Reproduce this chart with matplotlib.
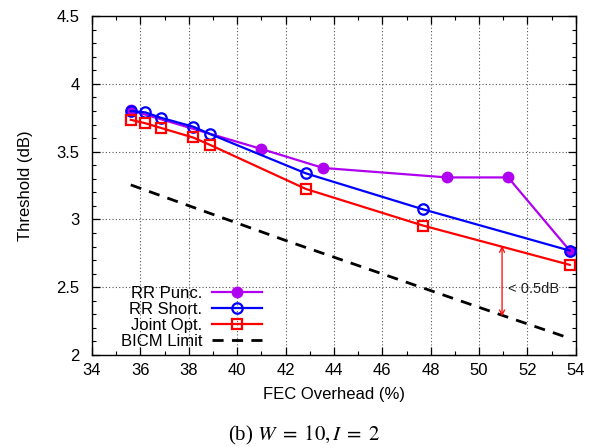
import matplotlib
matplotlib.use("Agg")
import matplotlib.pyplot as plt
from matplotlib.ticker import MultipleLocator

plt.rcParams['font.family'] = ['Liberation Sans', 'DejaVu Sans']
plt.rcParams['mathtext.fontset'] = 'stix'

# Data
punc_x = [35.6, 41.0, 43.55, 48.67, 51.2, 53.75]
punc_y = [3.805, 3.52, 3.38, 3.31, 3.31, 2.77]

short_x = [35.6, 36.2, 36.85, 38.17, 38.88, 42.84, 47.68, 53.75]
short_y = [3.80, 3.79, 3.75, 3.685, 3.63, 3.34, 3.075, 2.77]

joint_x = [35.6, 36.2, 36.85, 38.17, 38.88, 42.84, 47.68, 53.75]
joint_y = [3.735, 3.71, 3.675, 3.605, 3.55, 3.225, 2.955, 2.665]

bicm_x = [35.6, 42.0, 51.0, 53.8]
bicm_y = [3.255, 2.845, 2.29, 2.12]

xticks = list(range(34, 55, 2))
yticks = [2, 2.5, 3, 3.5, 4, 4.5]

fig = plt.figure(figsize=(5.9, 4.48), dpi=100)
ax = fig.add_axes([0.156, 0.2076, 0.82, 0.7564])

ax.plot(punc_x, punc_y, color='#b000f0', lw=1.6, marker='o', ms=7.5,
        mfc='#b000f0', mec='#b000f0', label='RR Punc.', zorder=3)
ax.plot(short_x, short_y, color='#0000ff', lw=1.6, marker='o', ms=7.5,
        mfc='none', mec='#0000ff', mew=1.6, label='RR Short.', zorder=4)
ax.plot(joint_x, joint_y, color='#ff0000', lw=1.6, marker='s', ms=7.5,
        mfc='none', mec='#ff0000', mew=1.6, label='Joint Opt.', zorder=5)
ax.plot(bicm_x, bicm_y, color='black', lw=2.0, ls=(0, (4, 3)),
        label='BICM Limit', zorder=3)

# annotation arrow
ax.annotate('', xy=(50.95, 2.285), xytext=(50.95, 2.805),
            arrowprops=dict(arrowstyle='<->', color='#ff0000', lw=0.9,
                            shrinkA=0, shrinkB=0, mutation_scale=9))
ax.text(51.2, 2.49, '< 0.5dB', fontsize=10.5, va='center', ha='left',
        color='#222222')

ax.set_xlim(34, 54)
ax.set_ylim(2, 4.5)
ax.set_xticks(xticks)
ax.set_yticks(yticks)
ax.set_xticklabels([str(v) for v in xticks])
ax.set_yticklabels(['2', '2.5', '3', '3.5', '4', '4.5'])
ax.xaxis.set_minor_locator(MultipleLocator(1))
ax.yaxis.set_minor_locator(MultipleLocator(0.1))
ax.tick_params(which='both', direction='in', top=True, right=True,
               labelsize=12, colors='black')
ax.tick_params(which='major', length=6, width=0.9)
ax.tick_params(axis='y', which='major', pad=9)
ax.tick_params(axis='x', which='major', pad=6)
ax.tick_params(which='minor', length=3, width=0.8)
for s in ax.spines.values():
    s.set_linewidth(1.0)
ax.grid(True, which='major', ls=(0, (1, 2)), color='#555555', lw=0.8)

ax.set_xlabel('FEC Overhead (%)', fontsize=12, labelpad=6)
ax.set_ylabel('Threshold (dB)', fontsize=12, labelpad=17)

leg = ax.legend(loc='lower right', bbox_to_anchor=(0.372, -0.012),
                frameon=False, markerfirst=False, fontsize=12,
                handlelength=3.0, handletextpad=0.6, labelspacing=0.07,
                borderaxespad=0.2)

fig.text(0.515, 0.016, r'(b) $W\;=\;10, I\;=\;2$', fontsize=15,
         family=['Liberation Serif', 'DejaVu Serif'], ha='center', va='baseline')

fig.savefig('out.png', dpi=100)
